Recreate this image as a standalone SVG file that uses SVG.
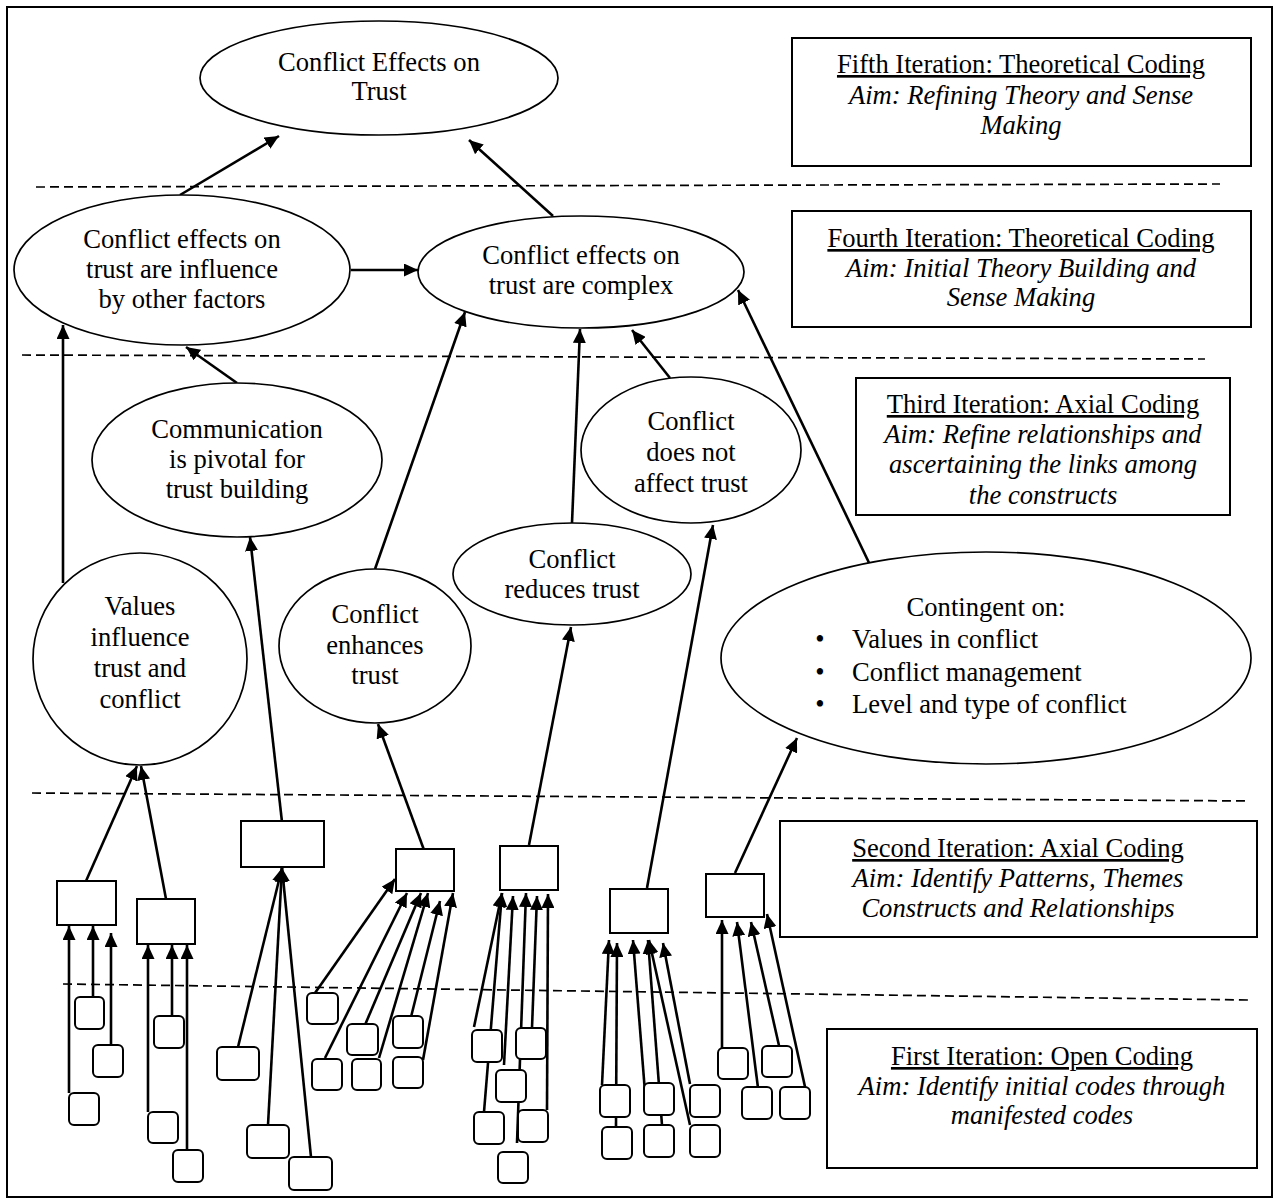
<svg xmlns="http://www.w3.org/2000/svg" width="1280" height="1204" viewBox="0 0 1280 1204">
<defs>
<marker id="ah" viewBox="0 0 14 13" refX="14" refY="6.5" markerWidth="14" markerHeight="13" markerUnits="userSpaceOnUse" orient="auto">
<path d="M0,0 L14,6.5 L0,13 z" fill="#000"/>
</marker>
<style>
.t{font-family:"Liberation Serif","Times New Roman",serif;font-size:26.6px;fill:#000;text-anchor:middle}
.i{font-style:italic}
.u{text-decoration:underline}
.s{text-anchor:start}
.n{fill:#fff;stroke:#000;stroke-width:1.7}
.b{fill:#fff;stroke:#000;stroke-width:2}
.sb{fill:#fff;stroke:#000;stroke-width:2}
.c{stroke:#000;stroke-width:2.6;fill:none;marker-end:url(#ah)}
.d{stroke:#000;stroke-width:1.7;stroke-dasharray:9 5;fill:none}
</style>
</defs>
<rect x="0" y="0" width="1280" height="1204" fill="#fff"/>
<rect x="7" y="7" width="1265" height="1190" fill="none" stroke="#000" stroke-width="2"/>

<g id="separators">
<line class="d" x1="36" y1="187" x2="1220" y2="184"/>
<line class="d" x1="22" y1="355" x2="1205" y2="359"/>
<line class="d" x1="32" y1="793" x2="1250" y2="801"/>
<line class="d" x1="63" y1="984" x2="1248" y2="1000"/>
</g>

<g id="connectors">
<line class="c" x1="180" y1="195" x2="279" y2="136"/>
<line class="c" x1="553" y1="216" x2="469" y2="140"/>
<line class="c" x1="351" y1="270" x2="418" y2="270"/>
<line class="c" x1="63" y1="583" x2="63" y2="325"/>
<line class="c" x1="237" y1="383" x2="186" y2="347"/>
<line class="c" x1="375" y1="569" x2="465" y2="312"/>
<line class="c" x1="572" y1="523" x2="580" y2="329"/>
<line class="c" x1="670" y1="378" x2="632" y2="330"/>
<line class="c" x1="872" y1="569" x2="738" y2="290"/>
<line class="c" x1="86" y1="881" x2="137" y2="766"/>
<line class="c" x1="166" y1="899" x2="141" y2="766"/>
<line class="c" x1="282" y1="822" x2="250" y2="537"/>
<line class="c" x1="424" y1="850" x2="378" y2="724"/>
<line class="c" x1="529" y1="845" x2="571" y2="627"/>
<line class="c" x1="647" y1="888" x2="713" y2="525"/>
<line class="c" x1="735" y1="873" x2="797" y2="738"/>
<line class="c" x1="69" y1="1093" x2="69" y2="926"/>
<line class="c" x1="93" y1="997" x2="93" y2="926"/>
<line class="c" x1="111" y1="1052" x2="111" y2="933"/>
<line class="c" x1="148" y1="1112" x2="148" y2="945"/>
<line class="c" x1="172" y1="1016" x2="172" y2="945"/>
<line class="c" x1="187" y1="1150" x2="187" y2="945"/>
<line class="c" x1="238" y1="1047" x2="282" y2="868"/>
<line class="c" x1="268" y1="1125" x2="282" y2="868"/>
<line class="c" x1="311" y1="1157" x2="282" y2="868"/>
<line class="c" x1="315" y1="993" x2="395" y2="879"/>
<line class="c" x1="325" y1="1058" x2="407" y2="893"/>
<line class="c" x1="365" y1="1025" x2="421" y2="893"/>
<line class="c" x1="379" y1="1058" x2="428" y2="893"/>
<line class="c" x1="411" y1="1017" x2="440" y2="901"/>
<line class="c" x1="423" y1="1060" x2="453" y2="893"/>
<line class="c" x1="474" y1="1027" x2="502" y2="893"/>
<line class="c" x1="484" y1="1112" x2="502" y2="893"/>
<line class="c" x1="504" y1="1065" x2="513" y2="896"/>
<line class="c" x1="517" y1="1143" x2="526" y2="893"/>
<line class="c" x1="532" y1="1028" x2="537" y2="896"/>
<line class="c" x1="547" y1="1110" x2="548" y2="894"/>
<line class="c" x1="602" y1="1085" x2="609" y2="940"/>
<line class="c" x1="616" y1="1127" x2="617" y2="943"/>
<line class="c" x1="646" y1="1105" x2="633" y2="940"/>
<line class="c" x1="662" y1="1125" x2="648" y2="940"/>
<line class="c" x1="690" y1="1125" x2="649" y2="940"/>
<line class="c" x1="690" y1="1084" x2="663" y2="943"/>
<line class="c" x1="722" y1="1048" x2="722" y2="920"/>
<line class="c" x1="758" y1="1088" x2="737" y2="922"/>
<line class="c" x1="780" y1="1050" x2="751" y2="922"/>
<line class="c" x1="809" y1="1105" x2="767" y2="914"/>
</g>

<g id="n-effects">
<ellipse class="n" cx="379" cy="78" rx="179" ry="57"/>
<text class="t" x="379" y="71">Conflict Effects on</text>
<text class="t" x="379" y="100">Trust</text>
</g>
<g id="n-influenced">
<ellipse class="n" cx="182" cy="270" rx="168" ry="75"/>
<text class="t" x="182" y="248">Conflict effects on</text>
<text class="t" x="182" y="278">trust are influence</text>
<text class="t" x="182" y="308">by other factors</text>
</g>
<g id="n-complex">
<ellipse class="n" cx="581" cy="272" rx="163" ry="56"/>
<text class="t" x="581" y="264">Conflict effects on</text>
<text class="t" x="581" y="294">trust are complex</text>
</g>
<g id="n-communication">
<ellipse class="n" cx="237" cy="460" rx="145" ry="77"/>
<text class="t" x="237" y="438">Communication</text>
<text class="t" x="237" y="468">is pivotal for</text>
<text class="t" x="237" y="498">trust building</text>
</g>
<g id="n-notaffect">
<ellipse class="n" cx="691" cy="450" rx="110" ry="73"/>
<text class="t" x="691" y="430">Conflict</text>
<text class="t" x="691" y="461">does not</text>
<text class="t" x="691" y="492">affect trust</text>
</g>
<g id="n-reduces">
<ellipse class="n" cx="572" cy="574" rx="119" ry="51"/>
<text class="t" x="572" y="568">Conflict</text>
<text class="t" x="572" y="598">reduces trust</text>
</g>
<g id="n-values">
<ellipse class="n" cx="140" cy="659" rx="107" ry="106"/>
<text class="t" x="140" y="615">Values</text>
<text class="t" x="140" y="646">influence</text>
<text class="t" x="140" y="677">trust and</text>
<text class="t" x="140" y="708">conflict</text>
</g>
<g id="n-enhances">
<ellipse class="n" cx="375" cy="646" rx="96" ry="77"/>
<text class="t" x="375" y="623">Conflict</text>
<text class="t" x="375" y="654">enhances</text>
<text class="t" x="375" y="684">trust</text>
</g>
<g id="n-contingent">
<ellipse class="n" cx="986" cy="658" rx="265" ry="106"/>
<text class="t" x="986" y="616">Contingent on:</text>
<text class="t" x="820" y="648">•</text>
<text class="t s" x="852" y="648">Values in conflict</text>
<text class="t" x="820" y="681">•</text>
<text class="t s" x="852" y="681">Conflict management</text>
<text class="t" x="820" y="713">•</text>
<text class="t s" x="852" y="713">Level and type of conflict</text>
</g>

<g id="label-fifth">
<rect class="b" x="792" y="38" width="459" height="128"/>
<text class="t u" x="1021" y="73">Fifth Iteration: Theoretical Coding</text>
<text class="t i" x="1021" y="104">Aim: Refining Theory and Sense</text>
<text class="t i" x="1021" y="134">Making</text>
</g>
<g id="label-fourth">
<rect class="b" x="792" y="211" width="459" height="116"/>
<text class="t u" x="1021" y="247">Fourth Iteration: Theoretical Coding</text>
<text class="t i" x="1021" y="277">Aim: Initial Theory Building and</text>
<text class="t i" x="1021" y="306">Sense Making</text>
</g>
<g id="label-third">
<rect class="b" x="856" y="378" width="374" height="137"/>
<text class="t u" x="1043" y="413">Third Iteration: Axial Coding</text>
<text class="t i" x="1043" y="443">Aim: Refine relationships and</text>
<text class="t i" x="1043" y="473">ascertaining the links among</text>
<text class="t i" x="1043" y="504">the constructs</text>
</g>
<g id="label-second">
<rect class="b" x="780" y="821" width="477" height="116"/>
<text class="t u" x="1018" y="857">Second Iteration: Axial Coding</text>
<text class="t i" x="1018" y="887">Aim: Identify Patterns, Themes</text>
<text class="t i" x="1018" y="917">Constructs and Relationships</text>
</g>
<g id="label-first">
<rect class="b" x="827" y="1029" width="430" height="139"/>
<text class="t u" x="1042" y="1065">First Iteration: Open Coding</text>
<text class="t i" x="1042" y="1095">Aim: Identify initial codes through</text>
<text class="t i" x="1042" y="1124">manifested codes</text>
</g>

<g id="axial-boxes">
<rect id="ax-a" class="b" x="57" y="881" width="59" height="44"/>
<rect id="ax-b" class="b" x="137" y="899" width="58" height="45"/>
<rect id="ax-c" class="b" x="241" y="821" width="83" height="46"/>
<rect id="ax-d" class="b" x="396" y="849" width="58" height="42"/>
<rect id="ax-e" class="b" x="500" y="846" width="58" height="44"/>
<rect id="ax-f" class="b" x="610" y="889" width="58" height="44"/>
<rect id="ax-g" class="b" x="706" y="874" width="58" height="43"/>
</g>

<g id="open-codes">
<rect id="oc1" class="sb" x="75" y="997" width="29" height="32" rx="5"/>
<rect id="oc2" class="sb" x="93" y="1045" width="30" height="32" rx="5"/>
<rect id="oc3" class="sb" x="69" y="1093" width="30" height="32" rx="5"/>
<rect id="oc4" class="sb" x="154" y="1016" width="30" height="32" rx="5"/>
<rect id="oc5" class="sb" x="148" y="1112" width="30" height="31" rx="5"/>
<rect id="oc6" class="sb" x="173" y="1150" width="30" height="32" rx="5"/>
<rect id="oc7" class="sb" x="217" y="1047" width="42" height="33" rx="5"/>
<rect id="oc8" class="sb" x="247" y="1125" width="42" height="33" rx="5"/>
<rect id="oc9" class="sb" x="289" y="1157" width="43" height="33" rx="5"/>
<rect id="oc10" class="sb" x="307" y="993" width="31" height="31" rx="5"/>
<rect id="oc11" class="sb" x="312" y="1059" width="30" height="31" rx="5"/>
<rect id="oc12" class="sb" x="347" y="1024" width="31" height="31" rx="5"/>
<rect id="oc13" class="sb" x="352" y="1059" width="29" height="31" rx="5"/>
<rect id="oc14" class="sb" x="393" y="1016" width="30" height="32" rx="5"/>
<rect id="oc15" class="sb" x="393" y="1057" width="30" height="31" rx="5"/>
<rect id="oc16" class="sb" x="472" y="1030" width="30" height="32" rx="5"/>
<rect id="oc17" class="sb" x="516" y="1028" width="30" height="31" rx="5"/>
<rect id="oc18" class="sb" x="496" y="1070" width="30" height="32" rx="5"/>
<rect id="oc19" class="sb" x="474" y="1112" width="30" height="32" rx="5"/>
<rect id="oc20" class="sb" x="518" y="1110" width="30" height="32" rx="5"/>
<rect id="oc21" class="sb" x="498" y="1152" width="30" height="31" rx="5"/>
<rect id="oc22" class="sb" x="600" y="1085" width="30" height="32" rx="5"/>
<rect id="oc23" class="sb" x="602" y="1127" width="30" height="32" rx="5"/>
<rect id="oc24" class="sb" x="644" y="1083" width="30" height="32" rx="5"/>
<rect id="oc25" class="sb" x="644" y="1125" width="30" height="32" rx="5"/>
<rect id="oc26" class="sb" x="690" y="1085" width="30" height="32" rx="5"/>
<rect id="oc27" class="sb" x="690" y="1125" width="30" height="32" rx="5"/>
<rect id="oc28" class="sb" x="718" y="1048" width="30" height="31" rx="5"/>
<rect id="oc29" class="sb" x="762" y="1046" width="30" height="31" rx="5"/>
<rect id="oc30" class="sb" x="742" y="1087" width="30" height="32" rx="5"/>
<rect id="oc31" class="sb" x="780" y="1087" width="30" height="32" rx="5"/>
</g>
</svg>
